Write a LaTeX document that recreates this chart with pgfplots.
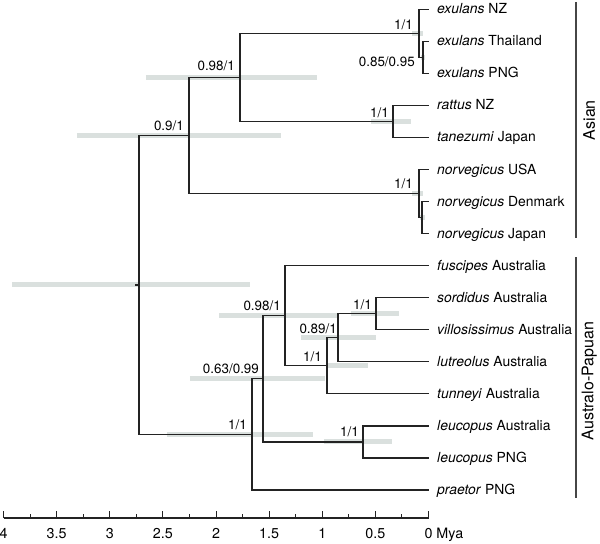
\documentclass[border=0pt]{standalone}
\usepackage{fontspec}
\setmainfont{TeX Gyre Heros}
\usepackage{pgfplots}
\usepackage{pgfplotstable}
\pgfplotsset{compat=1.18}
\definecolor{barc}{RGB}{218,224,222}
\definecolor{linec}{RGB}{35,35,35}
\definecolor{brc}{RGB}{70,70,70}
\newcommand\fl{\fontsize{13.9bp}{16bp}\selectfont}
\newcommand\fs{\fontsize{13.4bp}{15bp}\selectfont}
\newcommand\fg{\fontsize{16bp}{18bp}\selectfont}

% credibility intervals (Mya, node height)
\pgfplotstableread{
t y
3.92 6.3984
1.68 6.3984
nan nan
3.31 11.0625
1.39 11.0625
nan nan
2.66 12.875
1.05 12.875
nan nan
0.155 14.25
0.052 14.25
nan nan
0.07 13.5
0.033 13.5
nan nan
0.54 11.5
0.165 11.5
nan nan
0.155 9.25
0.052 9.25
nan nan
0.08 8.5
0.033 8.5
nan nan
2.46 1.734375
1.087 1.734375
nan nan
2.245 3.46875
0.974 3.46875
nan nan
1.97 5.4375
0.86 5.4375
nan nan
0.955 3.875
0.569 3.875
nan nan
1.2 4.75
0.494 4.75
nan nan
0.73 5.5
0.278 5.5
nan nan
0.98 1.5
0.344 1.5
}\bars

% tree branches
\pgfplotstableread{
t y
0 14
0.052 14
0.052 13
0 13
nan nan
0 15
0.089 15
0.089 13.5
0.052 13.5
nan nan
0 12
0.334 12
0.334 11
0 11
nan nan
0.089 14.25
1.774 14.25
1.774 11.5
0.334 11.5
nan nan
0 9
0.061 9
0.061 8
0 8
nan nan
0 10
0.089 10
0.089 8.5
0.061 8.5
nan nan
1.774 12.875
2.254 12.875
2.254 9.25
0.089 9.25
nan nan
0 6
0.494 6
0.494 5
0 5
nan nan
0.494 5.5
0.852 5.5
0.852 4
0 4
nan nan
0.852 4.75
0.955 4.75
0.955 3
0 3
nan nan
0 7
1.351 7
1.351 3.875
0.955 3.875
nan nan
0 2
0.616 2
0.616 1
0 1
nan nan
1.351 5.4375
1.557 5.4375
1.557 1.5
0.616 1.5
nan nan
1.557 3.46875
1.661 3.46875
1.661 0
0 0
nan nan
2.254 11.0625
2.725 11.0625
2.725 1.734375
1.661 1.734375
nan nan
2.725 6.3984
2.76 6.3984
}\branches

\begin{document}
\begin{tikzpicture}
\begin{axis}[
  scale only axis, width=425bp, height=518bp,
  x dir=reverse, xmin=0, xmax=4,
  ymin=-0.874, ymax=15.289,
  clip=false,
  hide y axis,
  axis x line*=bottom,
  x axis line style={linec, line width=1.1bp},
  xtick={0,0.5,1,1.5,2,2.5,3,3.5,4},
  xticklabels={0\rlap{ Mya},0.5,1,1.5,2,2.5,3,3.5,4},
  minor x tick num=1,
  tick align=inside,
  major tick length=7.5bp, minor tick length=4.5bp,
  tick style={linec, line width=1bp},
  xticklabel style={font=\fontsize{14.3bp}{16bp}\selectfont, yshift=-6.5bp},
  unbounded coords=jump,
]
\addplot[barc, line width=5bp] table[x=t,y=y] {\bars};
\addplot[linec, line width=1.25bp] table[x=t,y=y] {\branches};

% support values
\begin{scope}[every node/.style={font=\fs, anchor=base east, inner sep=0pt}]
\node[xshift=-5bp, yshift=7bp] at (axis cs:1.774,12.875) {0.98/1};
\node[xshift=-5bp, yshift=4.5bp] at (axis cs:2.254,11.0625) {0.9/1};
\node[xshift=-6bp, yshift=4bp] at (axis cs:0.089,14.25) {1/1};
\node[xshift=-8bp, yshift=-8.7bp] at (axis cs:0.052,13.5) {0.85/0.95};
\node[xshift=-4bp, yshift=3.5bp] at (axis cs:0.334,11.5) {1/1};
\node[xshift=-6bp, yshift=5bp] at (axis cs:0.089,9.25) {1/1};
\node[xshift=-4bp, yshift=5bp] at (axis cs:1.351,5.4375) {0.98/1};
\node[xshift=-4bp, yshift=5bp] at (axis cs:1.557,3.46875) {0.63/0.99};
\node[xshift=-5bp, yshift=5bp] at (axis cs:1.661,1.734375) {1/1};
\node[xshift=-4bp, yshift=4bp] at (axis cs:0.494,5.5) {1/1};
\node[xshift=-1bp, yshift=4.5bp] at (axis cs:0.852,4.75) {0.89/1};
\node[xshift=-5bp, yshift=4bp] at (axis cs:0.955,3.875) {1/1};
\node[xshift=-4bp, yshift=5bp] at (axis cs:0.616,1.5) {1/1};
\end{scope}

% leaf labels
\begin{scope}[every node/.style={font=\fl, anchor=base west, inner sep=0pt, xshift=8.5bp, yshift=-4.5bp}]
\node at (axis cs:0,15) {\textit{exulans} NZ};
\node at (axis cs:0,14) {\textit{exulans} Thailand};
\node at (axis cs:0,13) {\textit{exulans} PNG};
\node at (axis cs:0,12) {\textit{rattus} NZ};
\node at (axis cs:0,11) {\textit{tanezumi} Japan};
\node at (axis cs:0,10) {\textit{norvegicus} USA};
\node at (axis cs:0,9) {\textit{norvegicus} Denmark};
\node at (axis cs:0,8) {\textit{norvegicus} Japan};
\node at (axis cs:0,7) {\textit{fuscipes} Australia};
\node at (axis cs:0,6) {\textit{sordidus} Australia};
\node at (axis cs:0,5) {\textit{villosissimus} Australia};
\node at (axis cs:0,4) {\textit{lutreolus} Australia};
\node at (axis cs:0,3) {\textit{tunneyi} Australia};
\node at (axis cs:0,2) {\textit{leucopus} Australia};
\node at (axis cs:0,1) {\textit{leucopus} PNG};
\node at (axis cs:0,0) {\textit{praetor} PNG};
\end{scope}

% groups
\draw[brc, line width=1.2bp] (axis cs:-1.388,15.23) -- (axis cs:-1.388,7.86);
\draw[brc, line width=1.2bp] (axis cs:-1.388,7.27) -- (axis cs:-1.388,-0.25);
\node[font=\fg, rotate=90, inner sep=0pt] at (axis cs:-1.513,11.54) {Asian};
\node[font=\fg, rotate=90, inner sep=0pt] at (axis cs:-1.513,3.40) {Australo-Papuan};

\coordinate (bbA) at (axis cs:4.033,-1.654);
\coordinate (bbB) at (axis cs:-1.614,15.289);
\end{axis}
\pgfresetboundingbox
\path[use as bounding box] (bbA) rectangle (bbB);
\end{tikzpicture}
\end{document}
